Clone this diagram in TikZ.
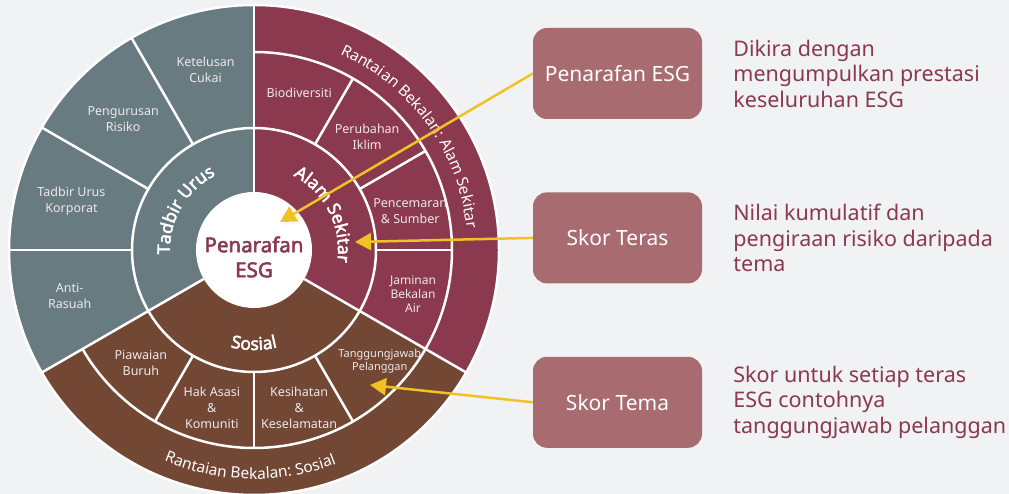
\documentclass[tikz,border=0pt]{standalone}
\usepackage{fontspec}
\setmainfont{Noto Sans}[BoldFont={Noto Sans}, BoldFeatures={FakeBold=2.5}]
\usetikzlibrary{positioning,arrows.meta,decorations.text}

\definecolor{bgpage}{HTML}{F1F2F4}
\definecolor{govgray}{HTML}{677B81}
\definecolor{envmaroon}{HTML}{8B394F}
\definecolor{socbrown}{HTML}{724734}
\definecolor{boxrose}{HTML}{A86B70}
\definecolor{arrowgold}{HTML}{F2C224}
\definecolor{labelwhite}{HTML}{EEE8E9}

\newcommand\ringfont{\fontsize{17.5}{17.5}\selectfont\bfseries}
\newcommand\outerfont{\fontsize{15.5}{15.5}\selectfont}

\tikzset{
  sep/.style={white, line width=2.5pt},
  theme/.style={text=labelwhite, align=center, inner sep=0pt, font=\fontsize{12.5}{16}\selectfont},
  scorebox/.style={fill=boxrose, rounded corners=14pt, minimum width=169pt, minimum height=91pt, text=white, font=\fontsize{21}{25}\selectfont},
  desc/.style={text=envmaroon, align=left, inner sep=0pt, font=\fontsize{21.5}{25.5}\selectfont},
  pointer/.style={arrowgold, line width=2.5pt, -{Triangle[length=16pt,width=17pt]}},
  ringtext/.style={decorate, decoration={text along path, text align=center, text color=white, text={#1}}},
}

\begin{document}
\begin{tikzpicture}[x=1pt, y=1pt]
\useasboundingbox (0,0) rectangle (1009,494);
\fill[bgpage] (0,0) rectangle (1009,494);

\begin{scope}[shift={(254,244)}]
  % three pillars
  \fill[govgray] (0,0) -- (90:245) arc (90:210:245) -- cycle;
  \fill[envmaroon] (0,0) -- (90:245) arc (90:-30:245) -- cycle;
  \fill[socbrown] (0,0) -- (-30:245) arc (-30:-150:245) -- cycle;

  \draw[sep] (0,0) circle (122);
  \draw[sep] (90:198) arc (90:-150:198);
  \foreach \a in {90,-30,210} \draw[sep] (\a:58) -- (\a:245);
  \foreach \a in {120,150,180} \draw[sep] (\a:122) -- (\a:245);
  \foreach \a in {60,30,0,-60,-90,-120} \draw[sep] (\a:122) -- (\a:198);
  \draw[sep] (0,0) circle (245);

  \node[circle, fill=white, minimum size=116pt, inner sep=0pt] (core) at (0,0) {};
  \node[text=envmaroon, align=center, inner sep=0pt, font=\fontsize{20.5}{25}\selectfont\bfseries] (coretxt) at (0,-7) {Penarafan\\ESG};

  \path[ringtext={|\ringfont|Tadbir Urus}] (210:84) arc (210:90:84);
  \path[ringtext={|\ringfont|Alam Sekitar}] (87:84) arc (87:-33:84);
  \path[ringtext={|\ringfont|Sosial}] (-150:100) arc (-150:-30:100);
  \path[ringtext={|\outerfont|Rantaian Bekalan: Alam Sekitar}] (96:214) arc (96:-24:214);
  \path[ringtext={|\outerfont|Rantaian Bekalan: Sosial}] (-151:229) arc (-151:-31:229);

  % themes
  \node[theme] (cukai) at (105:187) {Ketelusan\\Cukai};
  \node[theme] (risiko) at (135:185) {Pengurusan\\Risiko};
  \node[theme] (korporat) at (165:189) {Tadbir Urus\\Korporat};
  \node[theme] (rasuah) at (194:190) {Anti-\\Rasuah};
  \node[theme] (biodiv) at (74:164) {Biodiversiti};
  \node[theme] (iklim) at (45:160) {Perubahan\\Iklim};
  \node[theme] (cemar) at (14:161) {Pencemaran\\\& Sumber};
  \node[theme, font=\fontsize{12}{14}\selectfont] (air) at (-15.5:165) {Jaminan\\Bekalan\\Air};
  \node[theme, font=\fontsize{11}{13}\selectfont] (pelanggan) at (-41.5:168) {Tanggungjawab\\Pelanggan};
  \node[theme] (sihat) at (-74:164) {Kesihatan\\\&\\Keselamatan};
  \node[theme] (hakasasi) at (-105:163) {Hak Asasi\\\&\\Komuniti};
  \node[theme] (buruh) at (-135:160) {Piawaian\\Buruh};

  \coordinate (tipcore) at (26,28);
  \coordinate (tippillar) at (101,8);
  \coordinate (tiptheme) at (116,-135);
\end{scope}

\node[scorebox] (penbox) at (617.5,420.5) {Penarafan ESG};
\node[scorebox, below=73pt of penbox] (terasbox) {Skor Teras};
\node[scorebox, below=73pt of terasbox] (temabox) {Skor Tema};

\node[desc, right=31pt of penbox] (pendesc) {Dikira dengan\\mengumpulkan prestasi\\keseluruhan ESG};
\node[desc, right=31pt of terasbox] (terasdesc) {Nilai kumulatif dan\\pengiraan risiko daripada\\tema};
\node[desc, right=31pt of temabox] (temadesc) {Skor untuk setiap teras\\ESG contohnya\\tanggungjawab pelanggan};

\draw[pointer] (penbox.west) -- (tipcore);
\draw[pointer] (terasbox.west) -- (tippillar);
\draw[pointer] (temabox.west) -- (tiptheme);
\end{tikzpicture}
\end{document}
